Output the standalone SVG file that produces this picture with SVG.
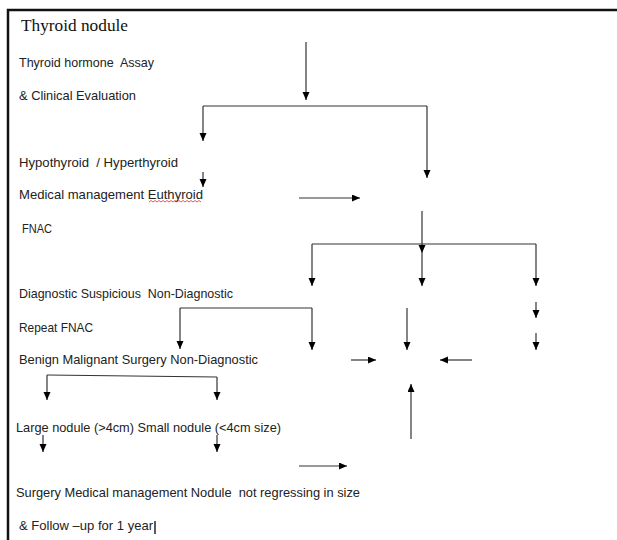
<svg xmlns="http://www.w3.org/2000/svg" width="617" height="540" viewBox="0 0 617 540">
<style>
  .t { font-family: "Liberation Sans", Arial, sans-serif; font-size: 13px; fill: #222; white-space: pre; }
  .title { font-family: "Liberation Serif", "Times New Roman", serif; font-size: 17px; fill: #111; }
  .c { fill: none; stroke: #333; stroke-width: 1.2; }
  .a { fill: none; stroke: #333; stroke-width: 1.2; marker-end: url(#arr); }
</style>
<defs>
  <marker id="arr" markerUnits="userSpaceOnUse" markerWidth="9" markerHeight="8" refX="8" refY="3.5" orient="auto">
    <path d="M0,0 L8,3.5 L0,7 z" fill="#000"/>
  </marker>
</defs>
<rect width="617" height="540" fill="#fff"/>
<g id="frame">
  <path d="M8,540 V10 H617" fill="none" stroke="#111" stroke-width="2.5"/>
</g>
<g id="n-title"><text class="title" x="21" y="31" textLength="107" lengthAdjust="spacingAndGlyphs">Thyroid nodule</text></g>
<g id="n-assay">
  <text class="t" x="19" y="67" textLength="135" lengthAdjust="spacingAndGlyphs">Thyroid hormone  Assay</text>
  <text class="t" x="19" y="100" textLength="117" lengthAdjust="spacingAndGlyphs">&amp; Clinical Evaluation</text>
</g>
<g id="n-hypo"><text class="t" x="19" y="167" textLength="159" lengthAdjust="spacingAndGlyphs">Hypothyroid  / Hyperthyroid</text></g>
<g id="n-medical">
  <text class="t" x="19" y="199" textLength="184" lengthAdjust="spacingAndGlyphs">Medical management Euthyroid</text>
  <path d="M149,202 l2,-1.5 l2,1.5 l2,-1.5 l2,1.5 l2,-1.5 l2,1.5 l2,-1.5 l2,1.5 l2,-1.5 l2,1.5 l2,-1.5 l2,1.5 l2,-1.5 l2,1.5 l2,-1.5 l2,1.5 l2,-1.5 l2,1.5 l2,-1.5 l2,1.5 l2,-1.5 l2,1.5 l2,-1.5 l2,1.5 l2,-1.5 l2,1.5" fill="none" stroke="#e03030" stroke-width="0.8"/>
</g>
<g id="n-fnac"><text class="t" x="22" y="233" textLength="30" lengthAdjust="spacingAndGlyphs">FNAC</text></g>
<g id="n-diag"><text class="t" x="19" y="298" textLength="214" lengthAdjust="spacingAndGlyphs">Diagnostic Suspicious  Non-Diagnostic</text></g>
<g id="n-repeat"><text class="t" x="19" y="332" textLength="74" lengthAdjust="spacingAndGlyphs">Repeat FNAC</text></g>
<g id="n-benign"><text class="t" x="19" y="364" textLength="239" lengthAdjust="spacingAndGlyphs">Benign Malignant Surgery Non-Diagnostic</text></g>
<g id="n-size"><text class="t" x="16" y="432" textLength="265" lengthAdjust="spacingAndGlyphs">Large nodule (&gt;4cm) Small nodule (&lt;4cm size)</text></g>
<g id="n-surgery">
  <text class="t" x="16" y="497" textLength="344" lengthAdjust="spacingAndGlyphs">Surgery Medical management Nodule  not regressing in size</text>
  <text class="t" x="19" y="530" textLength="134" lengthAdjust="spacingAndGlyphs">&amp; Follow –up for 1 year</text>
  <line x1="155" y1="521" x2="155" y2="534" stroke="#000" stroke-width="1.3"/>
</g>
<g id="connectors">
  <path class="a" d="M306,42 V100"/>
  <path class="c" d="M203,106 H427"/>
  <path class="a" d="M427,106 V178"/>
  <path class="a" d="M203,106 V141"/>
  <path class="a" d="M203,172 V187"/>
  <path class="a" d="M299,198 H360"/>
  <path class="a" d="M422,211 V253"/>
  <path class="c" d="M312,244 H536"/>
  <path class="a" d="M312,244 V286"/>
  <path class="a" d="M422,253 V286"/>
  <path class="a" d="M536,244 V286"/>
  <path class="a" d="M536,302 V318"/>
  <path class="a" d="M536,333 V350"/>
  <path class="c" d="M180,308 H312"/>
  <path class="a" d="M180,308 V349"/>
  <path class="a" d="M312,308 V350"/>
  <path class="a" d="M407,308 V350"/>
  <path class="a" d="M351,360 H376"/>
  <path class="a" d="M472,360 H440"/>
  <path class="a" d="M411,439 V384"/>
  <path class="a" d="M299,466 H347"/>
  <path class="c" d="M47,375 L217,377"/>
  <path class="a" d="M47,375 V400"/>
  <path class="a" d="M217,377 V400"/>
  <path class="a" d="M43,435 V452"/>
  <path class="a" d="M217,435 V452"/>
</g>
</svg>
